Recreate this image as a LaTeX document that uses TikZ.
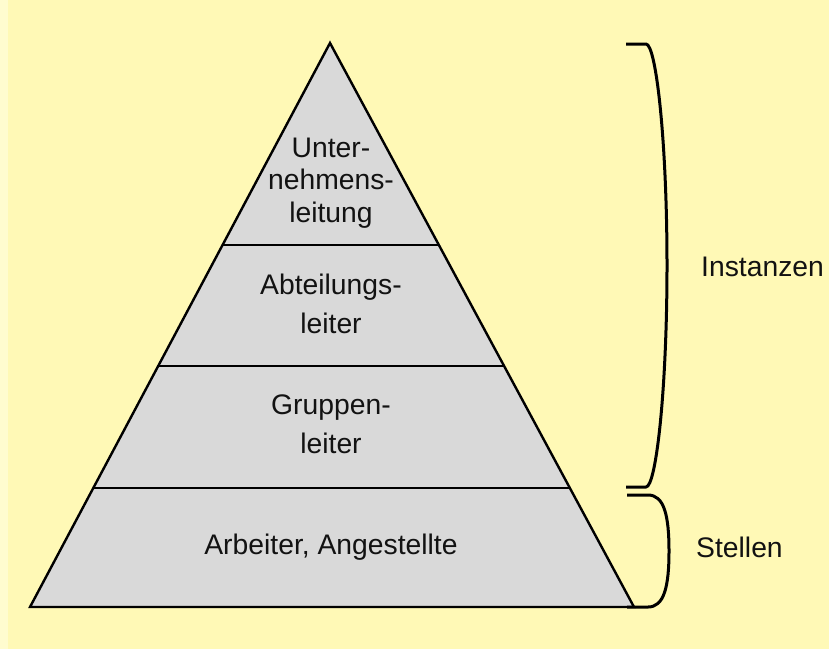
\documentclass[tikz,border=0pt]{standalone}
\usepackage{fontspec}
\setmainfont{Liberation Sans}
\usetikzlibrary{calc}
\definecolor{paper}{HTML}{FFF9B6}
\definecolor{paperedge}{HTML}{FFFCCF}
\definecolor{tierfill}{HTML}{D9D9D9}
\tikzset{
  outline/.style={line width=2.4pt, line join=miter},
  tierline/.style={line width=2pt},
  bracket/.style={line width=3pt, line cap=butt, line join=round},
  label/.style={font=\fontsize{28.3}{34}\selectfont, text=black!93, inner sep=0pt, anchor=base},
}
\begin{document}
\begin{tikzpicture}[x=1pt,y=-1pt]
  % page
  \fill[paper] (0,0) rectangle (829,649);
  \fill[paperedge] (0,0) rectangle (8,649);
  \useasboundingbox (0,0) rectangle (829,649);

  % pyramid
  \coordinate (apex) at (330,43);
  \coordinate (bl) at (30,607);
  \coordinate (br) at (634,607);
  \filldraw[fill=tierfill, outline] (apex) -- (br) -- (bl) -- cycle;
  \foreach \f/\n in {0.3582/a, 0.5727/b, 0.789/c}{
    \draw[tierline] ($(apex)!\f!(bl)$) coordinate (l\n) -- ($(apex)!\f!(br)$) coordinate (r\n);
  }

  % tier labels
  \node[label] (t1a) at (331,157) {Unter-};
  \node[label] (t1b) at (331,189) {nehmens-};
  \node[label] (t1c) at (331,222) {leitung};
  \node[label] (t2a) at (331,294) {Abteilungs-};
  \node[label] (t2b) at (331,333) {leiter};
  \node[label] (t3a) at (331,414) {Gruppen-};
  \node[label] (t3b) at (331,453) {leiter};
  \node[label] (t4)  at (331,554) {Arbeiter, Angestellte};

  % brackets
  \coordinate (ia) at (626,44);
  \coordinate (ib) at (646,44);
  \coordinate (im) at (667,265.5);
  \coordinate (ic) at (646,487);
  \coordinate (id) at (626,487);
  \draw[bracket] (ia) -- (ib) .. controls (656,44) and (667,140) .. (im)
                 .. controls (667,391) and (656,487) .. (ic) -- (id);
  \coordinate (sa) at (627,495);
  \coordinate (sb) at (648,495);
  \coordinate (sm) at (669,551);
  \coordinate (sc) at (648,607);
  \coordinate (sd) at (627,607);
  \draw[bracket] (sa) -- (sb) .. controls (664,495) and (669,515) .. (sm)
                 .. controls (669,587) and (664,607) .. (sc) -- (sd);

  % side labels
  \node[label, anchor=base west] (inst) at (701,276) {Instanzen};
  \node[label, anchor=base west] (stel) at (696,557) {Stellen};
\end{tikzpicture}
\end{document}
